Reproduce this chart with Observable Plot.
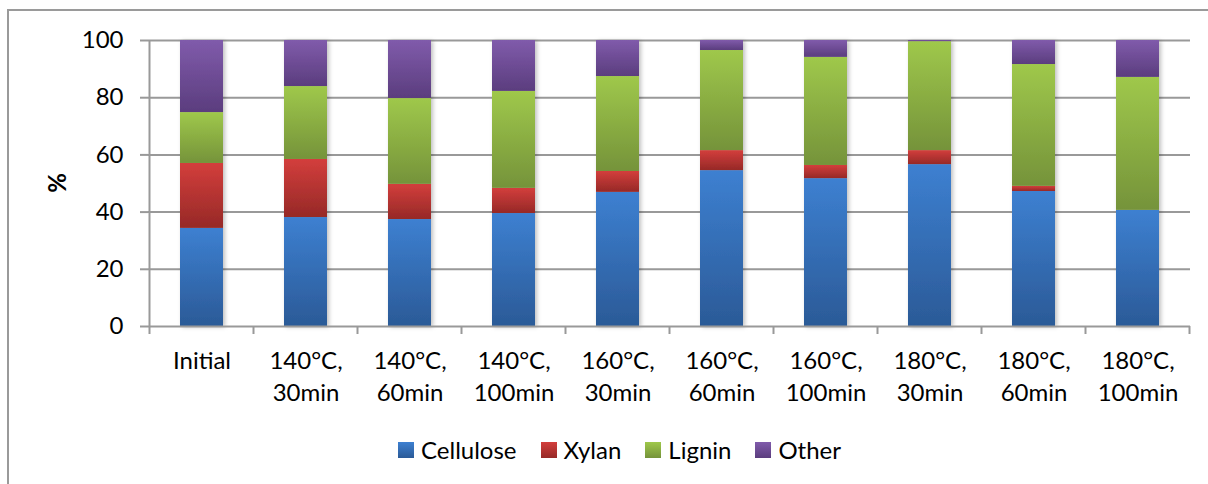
<!DOCTYPE html>
<html>
<head>
<meta charset="utf-8">
<script src="https://cdn.jsdelivr.net/npm/d3@7"></script>
<script src="https://cdn.jsdelivr.net/npm/@observablehq/plot@0.6"></script>
<style>
  html, body { margin: 0; padding: 0; background: #fff; }
  body { width: 1208px; height: 484px; overflow: hidden; position: relative; font-family: Lato, "Noto Sans", sans-serif; }
  #frame { position: absolute; left: 7px; top: 9px; width: 1230px; height: 500px; border: 2px solid #9a9a9a; box-sizing: border-box; }
  #chart { position: absolute; left: 0; top: 0; }
  #legend { position: absolute; left: 398px; top: 435px; display: flex; gap: 24px; align-items: center; font-size: 24px; color: #000; }
  .item { display: flex; align-items: center; gap: 7px; }
  .sw { width: 16px; height: 16px; }
</style>
</head>
<body>
<div id="frame"></div>
<div id="chart"></div>
<div id="legend"></div>
<script>
const categories = ["Initial", "140°C,\n30min", "140°C,\n60min", "140°C,\n100min", "160°C,\n30min", "160°C,\n60min", "160°C,\n100min", "180°C,\n30min", "180°C,\n60min", "180°C,\n100min"];
const series = ["Cellulose", "Xylan", "Lignin", "Other"];
const cellulose = [34.3, 38.1, 37.4, 39.5, 46.9, 54.5, 51.7, 56.6, 47.2, 40.6];
const xylan     = [22.7, 20.3, 12.3, 8.8, 7.3, 7.0, 4.6, 4.9, 1.8, 0];
const lignin    = [17.8, 25.5, 30.0, 33.9, 33.2, 35.0, 37.8, 38.1, 42.6, 46.5];
const other     = [25.2, 16.1, 20.3, 17.8, 12.6, 3.5, 5.9, 0.4, 8.4, 12.9];
const yTicks = [0, 20, 40, 60, 80, 100];

const gradients = {
  Cellulose: ["#3d80d1", "#2b5a97"],
  Xylan: ["#d33e3c", "#962927"],
  Lignin: ["#9fc84b", "#75933a"],
  Other: ["#805bab", "#5b3d7e"]
};

const valuesBySeries = {Cellulose: cellulose, Xylan: xylan, Lignin: lignin, Other: other};
const data = [];
for (const s of series) {
  valuesBySeries[s].forEach((v, i) => data.push({cat: categories[i], series: s, value: v}));
}

const grid = "#999999";
const font = "Lato, 'Noto Sans', sans-serif";

const chart = Plot.plot({
  width: 1208,
  height: 420,
  marginLeft: 148,
  marginRight: 18,
  marginTop: 40,
  marginBottom: 94,
  style: {fontFamily: font, fontSize: "24px", color: "#000", background: "transparent", overflow: "visible"},
  x: {domain: categories, paddingInner: 0.59, paddingOuter: 0.295, label: null},
  y: {domain: [0, 100], label: null},
  color: {domain: series, range: series.map(s => `url(#grad-${s})`)},
  marks: [
    Plot.gridY(yTicks.slice(1), {stroke: grid, strokeOpacity: 1, strokeWidth: 2}),
    Plot.barY(data, {x: "cat", y: "value", fill: "series"}),
    Plot.ruleY([0], {stroke: grid, strokeWidth: 2}),
    Plot.axisY({ticks: yTicks, tickSize: 8, tickPadding: 17, stroke: grid, strokeWidth: 2, fontSize: 24, label: null}),
    Plot.axisX({tickSize: 0, tickPadding: 19, lineHeight: 1.35, fontSize: 24, label: null})
  ]
});

document.getElementById("chart").appendChild(chart);

const svg = d3.select(chart);
const defs = svg.insert("defs", ":first-child");
for (const s of series) {
  const g = defs.append("linearGradient").attr("id", `grad-${s}`).attr("x1", 0).attr("y1", 0).attr("x2", 0).attr("y2", 1);
  g.append("stop").attr("offset", "0%").attr("stop-color", gradients[s][0]);
  g.append("stop").attr("offset", "100%").attr("stop-color", gradients[s][1]);
}
const f = defs.append("filter").attr("id", "shadow").attr("x", "-30%").attr("y", "-5%").attr("width", "160%").attr("height", "110%");
f.append("feDropShadow").attr("dx", 2).attr("dy", 1).attr("stdDeviation", 2).attr("flood-color", "#000").attr("flood-opacity", 0.25);
svg.selectAll("g[aria-label='bar']").attr("filter", "url(#shadow)");

const sx = chart.scale("x");
const sy = chart.scale("y");
const y0 = sy.apply(0), y100 = sy.apply(100);
const half = (sx.step - sx.bandwidth) / 2;
const bounds = categories.map(c => sx.apply(c) - half);
bounds.push(sx.apply(categories[categories.length - 1]) + sx.bandwidth + half);
const extra = svg.append("g").attr("stroke", grid).attr("stroke-width", 2);
extra.append("line").attr("x1", bounds[0]).attr("x2", bounds[0]).attr("y1", y100).attr("y2", y0 + 1);
for (const b of bounds) {
  extra.append("line").attr("x1", b).attr("x2", b).attr("y1", y0).attr("y2", y0 + 8);
}
svg.append("text")
  .attr("transform", `translate(60,${(y0 + y100) / 2}) rotate(-90)`)
  .attr("text-anchor", "middle")
  .attr("dominant-baseline", "middle")
  .attr("font-weight", "bold")
  .attr("font-size", 24)
  .attr("fill", "#000")
  .text("%");

const legend = document.getElementById("legend");
for (const s of series) {
  const it = document.createElement("div");
  it.className = "item";
  const sw = document.createElement("div");
  sw.className = "sw";
  sw.style.background = `linear-gradient(${gradients[s][0]}, ${gradients[s][1]})`;
  const t = document.createElement("span");
  t.textContent = s;
  it.appendChild(sw);
  it.appendChild(t);
  legend.appendChild(it);
}
</script>
</body>
</html>
